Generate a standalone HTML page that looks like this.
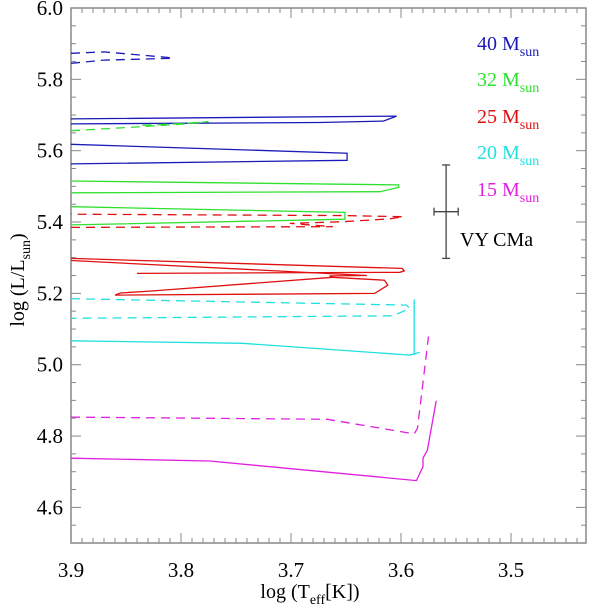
<!DOCTYPE html>
<html><head><meta charset="utf-8"><style>
html,body{margin:0;padding:0;background:#fff;}
svg{display:block;font-family:"Liberation Serif",serif;}
</style></head><body>
<svg id="chart" width="600" height="609" viewBox="0 0 600 609" xmlns="http://www.w3.org/2000/svg"></svg>
<script>
const xTicks=[3.9,3.8,3.7,3.6,3.5];
const yTicks=[6.0,5.8,5.6,5.4,5.2,5.0,4.8,4.6];
const masses=["40","32","25","20","15"];
const colors=["#1a1ab8","#30e030","#e01010","#20e0e0","#e020e0"];
const t40dT=[3.9,3.87,3.807];const t40dL=[5.873,5.877,5.860];
const t40d2T=[3.9,3.87,3.807];const t40d2L=[5.845,5.854,5.859];
const t40aT=[3.9,3.604,3.616,3.674,3.9];const t40aL=[5.689,5.697,5.683,5.679,5.675];
const t40bT=[3.9,3.649,3.649,3.9];const t40bL=[5.618,5.593,5.573,5.563];
const t32dT=[3.9,3.855,3.805,3.775,3.805,3.837];const t32dL=[5.656,5.664,5.673,5.681,5.675,5.671];
const t32aT=[3.9,3.602,3.602,3.619,3.9];const t32aL=[5.515,5.504,5.497,5.485,5.482];
const t32bT=[3.9,3.651,3.651,3.9];const t32bL=[5.443,5.427,5.408,5.392];
const t25dT=[3.9,3.783,3.662,3.692,3.701,3.653,3.61,3.598,3.651,3.9];const t25dL=[5.385,5.386,5.387,5.394,5.396,5.401,5.409,5.415,5.418,5.422];
const t25aT=[3.9,3.599,3.597,3.601,3.840];const t25aL=[5.298,5.270,5.263,5.259,5.256];
const t25bT=[3.9,3.631,3.665,3.662,3.615,3.612,3.619,3.624,3.860,3.855,3.825,3.662];const t25bL=[5.292,5.250,5.249,5.245,5.237,5.223,5.209,5.200,5.195,5.201,5.207,5.245];
const t20dT=[3.9,3.595,3.592,3.607,3.9];const t20dL=[5.185,5.167,5.158,5.137,5.130];
const t20aT=[3.9,3.744,3.592,3.588,3.588];const t20aL=[5.067,5.060,5.027,5.030,5.183];
const t20cT=[3.592,3.583];const t20cL=[5.027,5.035];
const t15dT=[3.9,3.667,3.588,3.585,3.575];const t15dL=[4.853,4.847,4.806,4.822,5.079];
const t15aT=[3.9,3.774,3.586,3.580,3.580,3.576,3.568];const t15aL=[4.738,4.730,4.675,4.714,4.738,4.761,4.899];
const tracks=[[0,1,t40dT,t40dL],[0,1,t40d2T,t40d2L],[0,0,t40aT,t40aL],[0,0,t40bT,t40bL],
[1,1,t32dT,t32dL],[1,0,t32aT,t32aL],[1,0,t32bT,t32bL],
[2,1,t25dT,t25dL],[2,0,t25aT,t25aL],[2,0,t25bT,t25bL],
[3,1,t20dT,t20dL],[3,0,t20aT,t20aL],[3,0,t20cT,t20cL],
[4,1,t15dT,t15dL],[4,0,t15aT,t15aL]];
const vyT=[3.559];const vyL=[5.429];const vyErrT=[0.011];const vyErrL=[0.131];

const X0=71,X1=586,Y0=8,Y1=543;
const sx=v=>X0+(3.9-v)*1100;
const sy=v=>Y0+(6.0-v)*356.7;
const NS="http://www.w3.org/2000/svg";
const svg=document.getElementById('chart');
function mk(tag,attrs,parent){const e=document.createElementNS(NS,tag);for(const k in attrs)e.setAttribute(k,attrs[k]);(parent||svg).appendChild(e);return e;}

const axes=mk('g',{});


const frame=mk('rect',{x:X0,y:Y0,width:X1-X0,height:Y1-Y0,fill:'none',stroke:'#888','stroke-width':1.5},axes);


for(let i=0;i<=47;i++){const v=3.9-i*0.01;const x=sx(v);if(x>X1)break;const major=i%10===0;const len=major?10:5;
 mk('line',{x1:x,y1:Y1,x2:x,y2:Y1-len,stroke:'#888','stroke-width':1},axes);
 mk('line',{x1:x,y1:Y0,x2:x,y2:Y0+len,stroke:'#888','stroke-width':1},axes);}
for(let i=0;i<=30;i++){const v=6.0-i*0.05;const y=sy(v);if(y>Y1+0.5)break;const major=i%4===0;const len=major?10:5;
 mk('line',{x1:X0,y1:y,x2:X0+len,y2:y,stroke:'#888','stroke-width':1},axes);
 mk('line',{x1:X1,y1:y,x2:X1-len,y2:y,stroke:'#888','stroke-width':1},axes);}
xTicks.forEach(v=>{const t=mk('text',{x:sx(v),y:577,'text-anchor':'middle','font-size':21},axes);t.textContent=v.toFixed(1);
 
 });
yTicks.forEach(v=>{const t=mk('text',{x:63,y:sy(v)+7,'text-anchor':'end','font-size':21},axes);t.textContent=v.toFixed(1);
 
 });
const xt=mk('text',{x:310,y:598,'text-anchor':'middle','font-size':20});
xt.innerHTML='log (T<tspan font-size="14" dy="6">eff</tspan><tspan dy="-6">[K])</tspan>';


const yt=mk('text',{x:0,y:0,'text-anchor':'middle','font-size':20,transform:'translate(24,280) rotate(-90)'});
yt.innerHTML='log (L/L<tspan font-size="14" dy="6">sun</tspan><tspan dy="-6">)</tspan>';



tracks.forEach(tr=>{const [m,d,T,L]=tr;const pts=T.map((t,i)=>sx(t).toFixed(1)+','+sy(L[i]).toFixed(1)).join(' ');
 const p=mk('polyline',{points:pts,fill:'none',stroke:colors[m],'stroke-width':1.3,'stroke-dasharray':d?'9,6':'none'});
 
 });

const vg=mk('g',{stroke:'#444','stroke-width':1.3});


const cx=sx(vyT[0]),cy=sy(vyL[0]);
const ya=sy(vyL[0]+vyErrL[0]),yb=sy(vyL[0]-vyErrL[0]),xa=sx(vyT[0]+vyErrT[0]),xb=sx(vyT[0]-vyErrT[0]);
mk('line',{x1:cx,y1:ya,x2:cx,y2:yb},vg);
mk('line',{x1:xa,y1:cy,x2:xb,y2:cy},vg);
mk('line',{x1:cx-4,y1:ya,x2:cx+4,y2:ya},vg);
mk('line',{x1:cx-4,y1:yb,x2:cx+4,y2:yb},vg);
mk('line',{x1:xa,y1:cy-4,x2:xa,y2:cy+4},vg);
mk('line',{x1:xb,y1:cy-4,x2:xb,y2:cy+4},vg);
const vl=mk('text',{x:460,y:246,'font-size':20});vl.textContent='VY CMa';



const ly=[50,86,123,159,196];
masses.forEach((m,i)=>{const t=mk('text',{x:477,y:ly[i],'font-size':20,fill:colors[i]});
 t.innerHTML=m+' M<tspan font-size="14" dy="6">sun</tspan>';
 
 });
</script>
</body></html>
